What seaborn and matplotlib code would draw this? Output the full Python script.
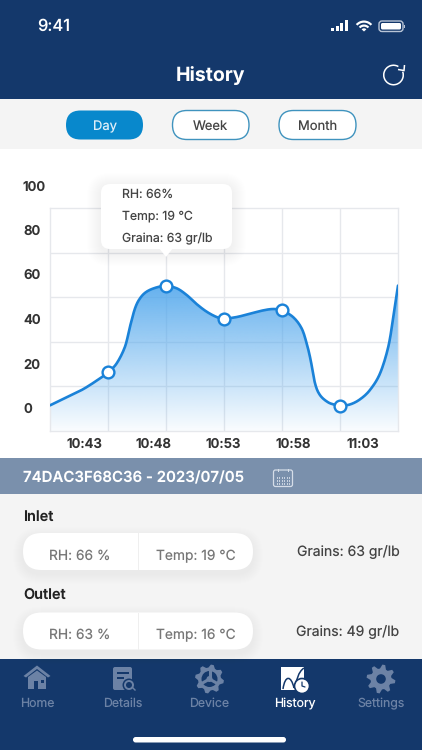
import numpy as np
import pandas as pd
import matplotlib
matplotlib.use("Agg")
import matplotlib.pyplot as plt
from matplotlib.patches import FancyBboxPatch, Rectangle, Polygon, Circle, Wedge, Arc, PathPatch
from matplotlib.path import Path
import seaborn as sns

# ---------- data ----------
curve_x = [0, .287, .575, .862, 1.0, 1.149, 1.293, 1.379, 1.466, 1.552, 1.667, 1.839, 2.0, 2.184, 2.356,
           2.529, 2.701, 2.874, 3.0, 3.218, 3.448, 3.678, 3.851, 4.0, 4.195, 4.339, 4.425, 4.494, 4.569,
           4.655, 4.799, 4.943, 5.0, 5.172, 5.345, 5.517, 5.69, 5.833, 5.92, 6.0]
curve_y = [1.2, 4.8, 8.5, 13.3, 16.0, 20.0, 27.5, 36.5, 44.7, 49.2, 52.2, 54.1, 54.7, 53.7, 50.7,
           46.6, 43.2, 40.8, 40.1, 40.8, 42.3, 43.8, 44.4, 43.8, 40.7, 35.7, 29.0, 21.5, 11.1,
           5.8, 2.5, 1.3, 1.0, 1.6, 3.9, 8.1, 15.5, 27.5, 41.0, 54.9]
point_x = [1, 2, 3, 4, 5]
point_y = [16.0, 54.7, 40.1, 43.8, 1.0]
y_labels = [0, 20, 40, 60, 80]
time_pos = [.586, 1.788, 2.983, 4.19, 5.39]
time_labels = ["10:43", "10:48", "10:53", "10:58", "11:03"]
tooltip_lines = ["RH: 66%", "Temp: 19 ℃", "Graina: 63 gr/lb"]
tabs = ["Day", "Week", "Month"]
nav_labels = ["Home", "Details", "Device", "History", "Settings"]
header_text = "74DAC3F68C36 - 2023/07/05"
inlet = ["RH: 66 %", "Temp: 19 °C", "Grains: 63 gr/lb"]
outlet = ["RH: 63 %", "Temp: 16 °C", "Grains: 49 gr/lb"]

NAVY, GREY, BLUE, STEEL = "#14386B", "#F4F4F4", "#0888CC", "#7A90AC"
NAVI, LINE, GRID, INK = "#6C82A5", "#1A82D8", "#E6E8EC", "#444444"

sns.set_theme(style="white")
plt.rcParams["font.family"] = ["Inter", "DejaVu Sans"]
plt.rcParams["text.hinting"] = "none"
plt.rcParams["text.hinting_factor"] = 1

W, H = 422, 750
fig = plt.figure(figsize=(W / 100, H / 100), dpi=100, facecolor="white")


def overlay(z):
    a = fig.add_axes([0, 0, 1, 1], zorder=z)
    a.set_xlim(0, W); a.set_ylim(H, 0); a.axis("off"); a.patch.set_alpha(0)
    return a


bg = overlay(0)
top = overlay(5)
px = lambda v: v * 0.72


def rect(a, x0, y0, x1, y1, c, z=1):
    a.add_patch(Rectangle((x0, y0), x1 - x0, y1 - y0, fc=c, ec="none", zorder=z))


def rbox(a, x0, y0, x1, y1, r, fc, ec="none", lw=0, z=2, alpha=None):
    a.add_patch(FancyBboxPatch((x0 + r, y0 + r), x1 - x0 - 2 * r, y1 - y0 - 2 * r,
                               boxstyle=f"round,pad={r},rounding_size={r}", fc=fc, ec=ec, lw=lw, zorder=z, alpha=alpha))


def shadow(a, x0, y0, x1, y1, r, dy=4, spread=12, strength=0.012, z=1.5):
    for s in range(spread, 0, -1):
        rbox(a, x0 - s, y0 - s + dy, x1 + s, y1 + s + dy, r + s, "#30405A", z=z, alpha=strength)


def label(a, x, y, s, size, c=INK, w="normal", ha="center", z=6):
    a.text(x, y + 1, s, fontsize=px(size), color=c, fontweight=w, ha=ha, va="center", zorder=z)


def smooth(xs, ys, n=12):
    """Catmull-Rom rendering of the read points, so the line is drawn as a curve."""
    p = np.column_stack([xs, ys])
    p = np.vstack([p[0], p, p[-1]])
    out = []
    for i in range(1, len(p) - 2):
        t = np.linspace(0, 1, n, endpoint=False)[:, None]
        out.append(0.5 * (2 * p[i] + (p[i + 1] - p[i - 1]) * t
                          + (2 * p[i - 1] - 5 * p[i] + 4 * p[i + 1] - p[i + 2]) * t ** 2
                          + (3 * p[i] - p[i - 1] - 3 * p[i + 1] + p[i + 2]) * t ** 3))
    out.append(p[-1:])
    return np.vstack(out)


# ---------- backgrounds ----------
rect(bg, 0, 0, W, 98.5, NAVY)
rect(bg, 0, 98.5, W, 148.5, GREY)
rect(bg, 0, 148.5, W, 458, "white")
rect(bg, 0, 458, W, 494, STEEL)
rect(bg, 0, 494, W, 659, GREY)
rect(bg, 0, 659, W, H, NAVY)

# status bar
label(bg, 54, 25.5, "9:41", 16.5, "white", "medium")
for i, hh in enumerate([3.5, 5.5, 8, 11]):
    rect(bg, 331 + i * 4.6, 31 - hh, 334.2 + i * 4.6, 31, "white", 3)
for r in (11, 7, 3.2):
    bg.add_patch(Wedge((364, 31.5), r, 222, 318, width=2.2 if r > 4 else r, fc="white", ec="none", zorder=3))
rbox(bg, 379, 21, 403, 31.5, 3, "none", "#B8C4D6", 1, z=3)
rbox(bg, 381, 23, 401, 29.5, 1.5, "white", z=3)
rect(bg, 404, 24.5, 405.3, 28, "#B8C4D6", 3)

# title and refresh
label(bg, 210.5, 74, "History", 19.5, "white", "bold")
bg.add_patch(Arc((393.5, 75), 19.5, 19.5, theta1=-20, theta2=300, color="white", lw=1.1, zorder=3))
bg.add_patch(Polygon([[398, 69.5], [404, 70.5], [404.5, 65]], closed=False, fill=False, ec="white", lw=1.1, zorder=3))

# tabs
for s, (x0, x1) in zip(tabs, [(66, 143), (172.5, 249), (279, 356)]):
    active = s == "Day"
    rbox(bg, x0, 110.5, x1, 139.5, 14.5, BLUE if active else "white", BLUE if active else "#3F93BE", 0 if active else 1)
    label(bg, (x0 + x1) / 2, 125.5, s, 13, "#DDEEF8" if active else INK)

# ---------- chart, through seaborn ----------
ax = fig.add_axes([50 / W, 1 - 431 / H, 348 / W, 223 / H], zorder=2)
ax.patch.set_alpha(0)
sm = smooth(curve_x, curve_y)
df = pd.DataFrame({"x": sm[:, 0], "y": sm[:, 1]})
pts = pd.DataFrame({"x": point_x, "y": point_y})

rgba = np.zeros((256, 1, 4))
rgba[..., :3] = matplotlib.colors.to_rgb("#4FA6EC")
rgba[..., 3] = np.linspace(0.88, 0.03, 256)[:, None]
im = ax.imshow(rgba, extent=[0, 6, -10.3, max(curve_y)], origin="upper", aspect="auto", zorder=2)
poly = Polygon(np.vstack([[0, -10.3], sm, [6, -10.3]]), closed=True, transform=ax.transData, fc="none", ec="none")
ax.add_patch(poly)
im.set_clip_path(poly)

sns.lineplot(data=df, x="x", y="y", ax=ax, color=LINE, lw=1.9, zorder=3, estimator=None, sort=False)
sns.scatterplot(data=pts, x="x", y="y", ax=ax, s=72, color="white", edgecolor=LINE, linewidth=1.7, zorder=4, clip_on=False)

ax.set_xlim(0, 6); ax.set_ylim(-10.3, 89.7)
ax.set_xlabel(""); ax.set_ylabel("")
ax.set_xticks(time_pos, time_labels)
ax.set_xticks([1, 2, 3, 4, 5], minor=True)
ax.set_yticks(y_labels, [str(v) for v in y_labels])
ax.set_yticks([9.7, 29.7, 49.7, 69.7], minor=True)
ax.grid(False)
ax.grid(True, which="minor", color=GRID, lw=1, zorder=1)
ax.set_axisbelow(True)
ax.tick_params(which="both", length=0)
ax.tick_params(axis="x", pad=5, labelsize=px(13.3), labelcolor="#333333")
ax.tick_params(axis="y", pad=px(27), labelsize=px(13.3), labelcolor="#333333")
for t in ax.get_xticklabels() + ax.get_yticklabels():
    t.set_fontweight("semibold")
for t in ax.get_yticklabels():
    t.set_ha("left")
ax.text(-27 / 58, 99.2, "100", fontsize=px(13.3), fontweight="semibold", color="#333333", ha="left", va="center", clip_on=False)
for s in ax.spines.values():
    s.set_color(GRID); s.set_linewidth(1)

# tooltip
shadow(top, 101, 184, 232, 249, 9, dy=3, spread=14, strength=0.005, z=1)
rbox(top, 101, 184, 232, 249, 9, "white", z=2)
top.add_patch(Polygon([[159, 248], [173, 248], [166, 257]], fc="white", ec="none", zorder=2))
for y, s in zip([193, 215.5, 238], tooltip_lines):
    label(top, 122, y, s, 12.3, INK, ha="left")

# ---------- device strip ----------
label(bg, 23, 477.5, header_text, 15, "white", "semibold", ha="left")
rbox(bg, 273.5, 470, 292.5, 486.5, 2, "none", "#D5DDE8", 0.9, z=3)
rect(bg, 273.5, 473.5, 292.5, 474.3, "#D5DDE8", 3)
rect(bg, 277.5, 468.5, 278.5, 471.5, "#D5DDE8", 3)
rect(bg, 287.5, 468.5, 288.5, 471.5, "#D5DDE8", 3)
for yy in (477, 480, 483):
    for xx in np.arange(276.5, 289.5, 2.5):
        rect(bg, xx, yy, xx + 1.3, yy + 1.5, "#C8D2E0", 3)

# ---------- readings ----------
for head, vals, yh, y0 in [("Inlet", inlet, 515.5, 533), ("Outlet", outlet, 594.5, 612.5)]:
    label(bg, 23, yh, head, 14.5, "#222222", "semibold", ha="left")
    shadow(bg, 23, y0, 253, y0 + 37, 18, dy=4, spread=10, strength=0.004)
    rbox(bg, 23, y0, 253, y0 + 37, 18.5, "white")
    rect(bg, 137.5, y0, 138.5, y0 + 37, "#EFEFEF", 3)
    label(bg, 80, y0 + 22, vals[0], 13.8, "#777777")
    label(bg, 195.5, y0 + 22, vals[1], 13.8, "#777777")
    label(bg, 348, y0 + 18.5, vals[2], 14, INK, ha="center")

# ---------- navigation ----------
for x, s in zip([37, 123, 209.5, 294.5, 381], nav_labels):
    label(bg, x, 702.5, s, 12.3, "white" if s == "History" else NAVI)


def gear(a, cx, cy, r_out, r_in, hole, c, teeth=8, holec=NAVY):
    t = np.linspace(0, 2 * np.pi, teeth * 4, endpoint=False) + np.pi / (teeth * 4)
    rad = np.where(np.arange(teeth * 4) % 4 < 2, r_out, r_in)
    a.add_patch(Polygon(np.column_stack([cx + rad * np.cos(t), cy + rad * np.sin(t)]), fc=c, ec="none", zorder=3))
    a.add_patch(Circle((cx, cy), hole, fc=holec, ec="none", zorder=4))


# home
bg.add_patch(Polygon([[23.5, 676], [37, 665.5], [50.5, 676], [48, 677.5], [37, 669], [26, 677.5]], fc=NAVI, ec="none", zorder=3))
bg.add_patch(Polygon([[28, 677], [37, 670.5], [46, 677], [46, 689], [28, 689]], fc=NAVI, ec="none", zorder=3))
rect(bg, 34, 681, 38, 689, NAVY, 4)
rect(bg, 41, 680, 44, 682.5, NAVY, 4)
# details
rbox(bg, 113, 667, 132, 690, 2, NAVI)
rect(bg, 116.5, 672, 128.5, 674, NAVY, 3)
rect(bg, 116.5, 677, 123.5, 679, NAVY, 3)
bg.add_patch(Circle((129, 685), 6.5, fc=NAVY, ec="none", zorder=3))
bg.add_patch(Circle((129, 685), 4, fc="none", ec=NAVI, lw=1.4, zorder=4))
bg.add_patch(Polygon([[132, 688], [133, 687], [136, 690], [135, 691]], fc=NAVI, ec="none", zorder=4))
# device
gear(bg, 209.5, 679, 14.5, 11.5, 8, NAVI, holec=NAVY)
bg.add_patch(Circle((209.5, 679), 3, fc=NAVI, ec="none", zorder=5))
for ang in (90, 210, 330):
    bg.plot([209.5, 209.5 + 9 * np.cos(np.radians(ang))], [679, 679 - 9 * np.sin(np.radians(ang))],
            color=NAVI, lw=2.2, zorder=5, solid_capstyle="butt")
# history
rect(bg, 281, 667, 304, 690, "white", 3)
bg.add_patch(PathPatch(Path([(283, 689), (285, 675), (291, 675), (294, 688)],
                            [Path.MOVETO, Path.CURVE4, Path.CURVE4, Path.CURVE4]),
                       fc="none", ec=NAVY, lw=1.1, zorder=4))
bg.add_patch(PathPatch(Path([(294, 688), (297, 680), (298, 672), (304, 668)],
                            [Path.MOVETO, Path.CURVE4, Path.CURVE4, Path.CURVE4]),
                       fc="none", ec=NAVY, lw=1.1, zorder=4))
bg.add_patch(Circle((302, 686), 7.5, fc="white", ec=NAVY, lw=1.2, zorder=5))
bg.plot([302, 302, 305], [682, 686, 687], color=NAVY, lw=0.9, zorder=6)
# settings
gear(bg, 381, 679, 14.5, 10.5, 4.8, NAVI)

# home indicator
rbox(bg, 133, 737, 286, 742.5, 2.7, "white", z=3)

fig.savefig("out.png", dpi=100)
